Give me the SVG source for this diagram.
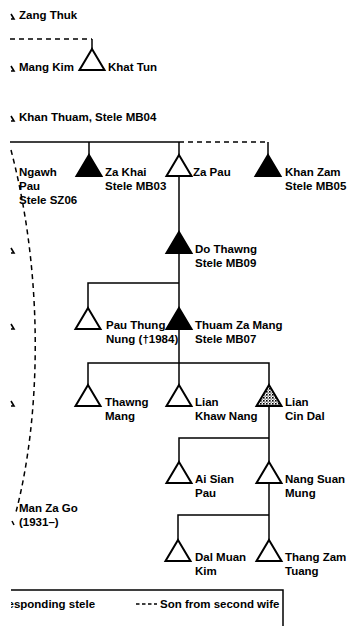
<svg xmlns="http://www.w3.org/2000/svg" xmlns:xlink="http://www.w3.org/1999/xlink" width="350" height="626" viewBox="0 0 350 626">
<style>
.ln{stroke:#000;stroke-width:1.5;fill:none}
.dash{stroke-dasharray:5 4}
.frag{stroke:#000;stroke-width:1.6;fill:none}
.to{fill:#fff;stroke:#000;stroke-width:2;stroke-linejoin:miter}
.tf{fill:#000;stroke:#000;stroke-width:2;stroke-linejoin:miter}
.ts{fill:url(#stip);stroke:#000;stroke-width:2;stroke-linejoin:miter}
text{font-family:"Liberation Sans",Arial,Helvetica,sans-serif;font-size:11.5px;font-weight:bold;fill:#000}
</style>
<defs>
<path id="tri" d="M0,0 L12.5,21 L-12.5,21 Z"/>
<pattern id="stip" width="3" height="3" patternUnits="userSpaceOnUse">
<rect width="3" height="3" fill="#fff"/>
<rect x="0" y="0" width="1.6" height="1.6" fill="#000"/>
<rect x="1.5" y="1.5" width="1.2" height="1.2" fill="#444"/>
</pattern>
<clipPath id="lclip"><rect x="11" y="0" width="339" height="626"/></clipPath>
</defs>
<rect width="350" height="626" fill="#fff"/>

<g id="connectors">
<path class="ln dash" d="M10,39 H92"/>
<path class="ln" d="M92,39 V49"/>
<path class="ln" d="M10,142 H179"/>
<path class="ln dash" d="M179,142 H268"/>
<path class="ln" d="M268,142 V155"/>
<path class="ln" d="M89,142 V155"/>
<path class="ln" d="M179,142 V155"/>
<path class="ln" d="M179,176 V232"/>
<path class="ln" d="M179,253 V308"/>
<path class="ln" d="M88,308 V283 H179"/>
<path class="ln" d="M179,329 V385"/>
<path class="ln" d="M88,385 V363 H269 V385"/>
<path class="ln" d="M269,406 V462"/>
<path class="ln" d="M179,462 V438 H269"/>
<path class="ln" d="M269,483 V540"/>
<path class="ln" d="M178,540 V515 H269"/>
<path class="ln dash" d="M11,150 C45,280 40,420 16,512"/>
</g>

<g id="fragments">
<path class="frag" d="M11,14 L14,19 L11,19"/>
<path class="frag" d="M11,66 L14,71 L11,71"/>
<path class="frag" d="M11,116 L14,121 L11,121"/>
<path class="frag" d="M11,248 L14,253 L11,253"/>
<path class="frag" d="M11,324 L14,329 L11,329"/>
<path class="frag" d="M11,401 L14,406 L11,406"/>
<path class="frag" d="M12,521 L14,525"/>
</g>

<g id="zang-thuk"><text x="19" y="19">Zang Thuk</text></g>
<g id="mang-kim"><text x="19" y="71">Mang Kim</text></g>
<g id="khat-tun"><use xlink:href="#tri" href="#tri" x="92" y="49" class="to"/><text x="108" y="71">Khat Tun</text></g>
<g id="khan-thuam"><text x="19" y="121">Khan Thuam, Stele MB04</text></g>
<g id="ngawh-pau"><text x="19" y="176">Ngawh</text><text x="19" y="190">Pau</text><text x="19" y="204">Stele SZ06</text></g>
<g id="za-khai"><use xlink:href="#tri" href="#tri" x="89" y="155" class="tf"/><text x="105" y="176">Za Khai</text><text x="105" y="190">Stele MB03</text></g>
<g id="za-pau"><use xlink:href="#tri" href="#tri" x="179" y="155" class="to"/><text x="193" y="176">Za Pau</text></g>
<g id="khan-zam"><use xlink:href="#tri" href="#tri" x="268" y="155" class="tf"/><text x="285" y="176">Khan Zam</text><text x="285" y="190">Stele MB05</text></g>
<g id="do-thawng"><use xlink:href="#tri" href="#tri" x="179" y="232" class="tf"/><text x="195" y="253">Do Thawng</text><text x="195" y="267">Stele MB09</text></g>
<g id="pau-thung-nung"><use xlink:href="#tri" href="#tri" x="88" y="308" class="to"/><text x="106" y="329">Pau Thung</text><text x="106" y="343">Nung (†1984)</text></g>
<g id="thuam-za-mang"><use xlink:href="#tri" href="#tri" x="179" y="308" class="tf"/><text x="195" y="329">Thuam Za Mang</text><text x="195" y="343">Stele MB07</text></g>
<g id="thawng-mang"><use xlink:href="#tri" href="#tri" x="88" y="385" class="to"/><text x="105" y="406">Thawng</text><text x="105" y="420">Mang</text></g>
<g id="lian-khaw-nang"><use xlink:href="#tri" href="#tri" x="179" y="385" class="to"/><text x="195" y="406">Lian</text><text x="195" y="420">Khaw Nang</text></g>
<g id="lian-cin-dal"><use xlink:href="#tri" href="#tri" x="269" y="385" class="ts"/><text x="285" y="406">Lian</text><text x="285" y="420">Cin Dal</text></g>
<g id="ai-sian-pau"><use xlink:href="#tri" href="#tri" x="179" y="462" class="to"/><text x="195" y="483">Ai Sian</text><text x="195" y="497">Pau</text></g>
<g id="nang-suan-mung"><use xlink:href="#tri" href="#tri" x="269" y="462" class="to"/><text x="285" y="483">Nang Suan</text><text x="285" y="497">Mung</text></g>
<g id="man-za-go"><text x="19" y="512">Man Za Go</text><text x="19" y="526">(1931–)</text></g>
<g id="dal-muan-kim"><use xlink:href="#tri" href="#tri" x="178" y="540" class="to"/><text x="195" y="561">Dal Muan</text><text x="195" y="575">Kim</text></g>
<g id="thang-zam-tuang"><use xlink:href="#tri" href="#tri" x="269" y="540" class="to"/><text x="285" y="561">Thang Zam</text><text x="285" y="575">Tuang</text></g>

<g id="legend">
<path class="ln" d="M11,590 H283 V626"/>
<g clip-path="url(#lclip)"><text x="7.5" y="608">esponding stele</text></g>
<path class="ln" d="M136,604 H157" style="stroke-dasharray:3.5 2.5;stroke-width:1.3"/>
<text x="160" y="608">Son from second wife</text>
</g>
</svg>
